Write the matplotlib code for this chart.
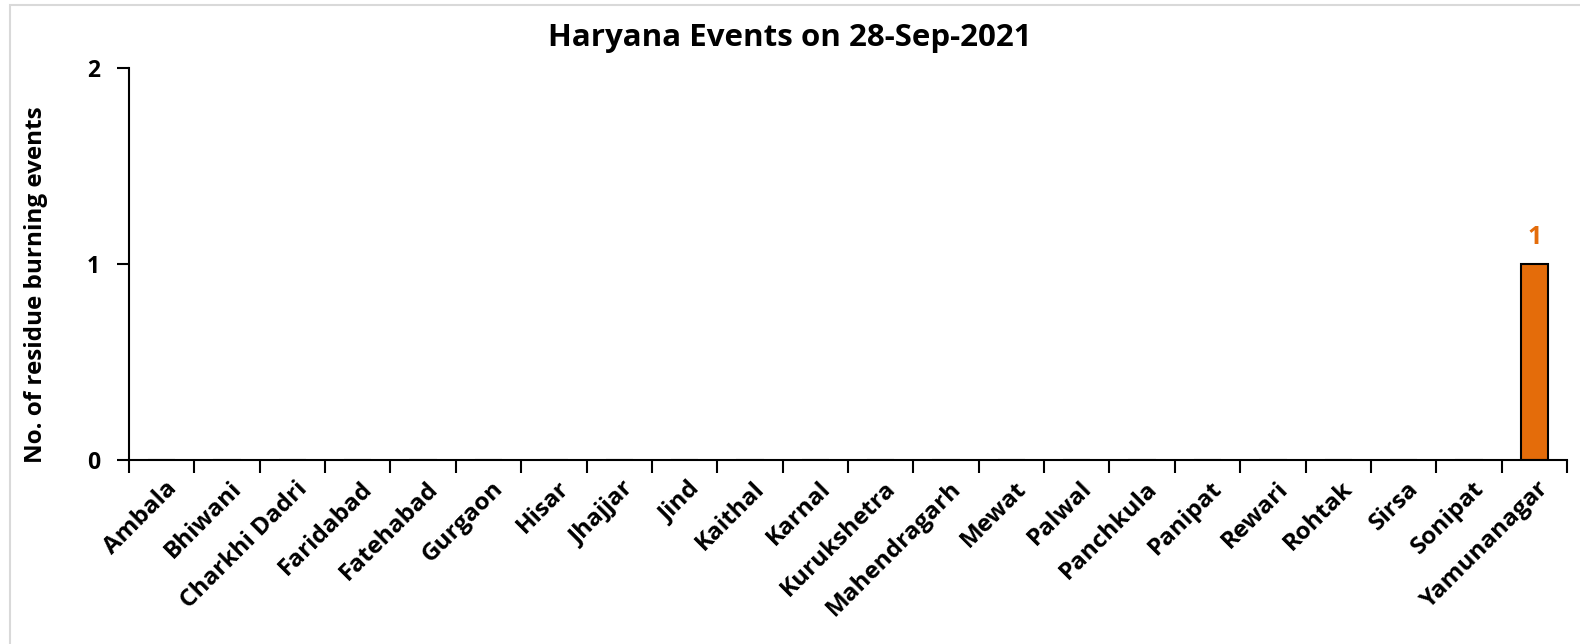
import numpy as np
import matplotlib
matplotlib.use("Agg")
from matplotlib import pyplot as plt
from matplotlib.patches import Rectangle
from matplotlib.transforms import ScaledTranslation

plt.rcParams['font.family'] = ['Open Sans', 'DejaVu Sans']
plt.rcParams['font.weight'] = 'bold'

# data
districts = ["Ambala", "Bhiwani", "Charkhi Dadri", "Faridabad", "Fatehabad", "Gurgaon",
             "Hisar", "Jhajjar", "Jind", "Kaithal", "Karnal", "Kurukshetra", "Mahendragarh",
             "Mewat", "Palwal", "Panchkula", "Panipat", "Rewari", "Rohtak", "Sirsa",
             "Sonipat", "Yamunanagar"]
events = [0, 0, 0, 0, 0, 0, 0, 0, 0, 0, 0, 0, 0, 0, 0, 0, 0, 0, 0, 0, 0, 1]

bar_color = '#E46C0A'

fig = plt.figure(figsize=(15.8, 6.44), dpi=100)
ax = fig.add_axes([129/1580, 1 - 460/644, (1567-129)/1580, (460-68)/644])

x = np.arange(len(districts))
bars = ax.bar(x, events, width=0.42, color=bar_color, edgecolor='black', linewidth=1.5)

# value labels only for non-zero bars
for xi, v in zip(x, events):
    if v > 0:
        ax.text(xi, v + 0.07, str(v), ha='center', va='bottom', color=bar_color,
                fontsize=18, fontweight='bold')

ax.set_xlim(-0.5, len(districts) - 0.5)
ax.set_ylim(0, 2)
ax.set_yticks([0, 1, 2])
ax.set_xticks(x)
ax.set_xticklabels(districts, rotation=45, ha='right', rotation_mode='anchor',
                   fontsize=17.5, fontweight='bold')
ax.tick_params(axis='x', length=0, pad=12)
# nudge labels to the right like excel does
shift = ScaledTranslation(3/100, 0, fig.dpi_scale_trans)
for lbl in ax.get_xticklabels():
    lbl.set_transform(lbl.get_transform() + shift)
ax.set_xticks(np.arange(len(districts) + 1) - 0.5, minor=True)
ax.tick_params(axis='x', which='minor', length=9, width=1.5, direction='out')
ax.tick_params(axis='y', length=9, width=1.5, direction='out', labelsize=16.5, pad=12)
for lbl in ax.get_yticklabels():
    lbl.set_fontweight('bold')

ax.spines['top'].set_visible(False)
ax.spines['right'].set_visible(False)
ax.spines['left'].set_linewidth(1.5)
ax.spines['bottom'].set_linewidth(1.5)

ax.set_ylabel("No. of residue burning events", fontsize=17.5, fontweight='bold')
ax.yaxis.set_label_coords(-0.056, 0.446)
fig.text(790/1580, 1 - 38/644, "Haryana Events on 28-Sep-2021", ha='center', va='center',
         fontsize=22.5, fontweight='bold')

# light frame around chart area
fig.add_artist(Rectangle((10/1580, -0.1), 1.2, 1 - 5/644 + 0.1, transform=fig.transFigure,
                         fill=False, edgecolor='#D9D9D9', linewidth=1.5))

plt.savefig("out.png", dpi=100)
plt.close()
